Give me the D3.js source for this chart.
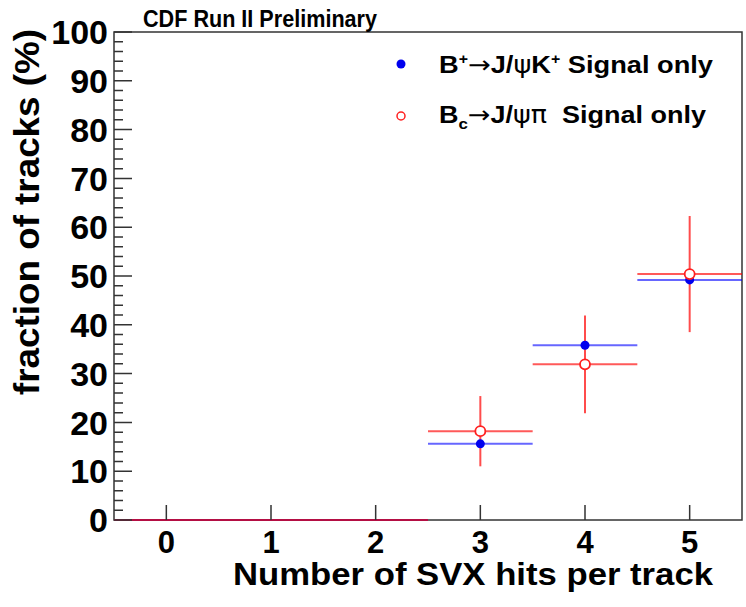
<!DOCTYPE html>
<html>
<head>
<meta charset="utf-8">
<script src="https://cdn.jsdelivr.net/npm/d3@7"></script>
<style>
  body { margin: 0; background: #fff; }
  svg { display: block; font-family: "Liberation Sans", Arial, Helvetica, sans-serif; font-weight: bold; }
</style>
</head>
<body>
<svg id="chart"></svg>
<script>
// SVX hit bins and fraction of tracks (%)
const bins = [0, 1, 2, 3, 4, 5];
const bplusValues = [0, 0, 0, 15.6, 35.8, 49.2];
const bcValues = [0, 0, 0, 18.2, 31.9, 50.4];
const bcErrors = [0, 0, 0, 7.2, 10.0, 11.9];
const yTicks = [0, 10, 20, 30, 40, 50, 60, 70, 80, 90, 100];
const yMinorTicks = d3.range(0, 101, 2).filter(v => v % 10 !== 0);

const config = {
  width: 746,
  height: 607,
  margin: {top: 32, right: 4, bottom: 87, left: 114}
};

const innerW = config.width - config.margin.left - config.margin.right;
const innerH = config.height - config.margin.top - config.margin.bottom;

const svg = d3.select('#chart')
    .attr('width', config.width)
    .attr('height', config.height);

const chart = svg.append('g')
    .attr('transform', `translate(${config.margin.left},${config.margin.top})`);

const xScale = d3.scaleLinear().domain([-0.5, 5.5]).range([0, innerW]);
const yScale = d3.scaleLinear().domain([0, 100]).range([innerH, 0]);

// frame
chart.append('rect')
    .attr('width', innerW)
    .attr('height', innerH)
    .attr('fill', 'none')
    .attr('stroke', '#333')
    .attr('stroke-width', 1.5);

chart.selectAll('.ylab')
    .data(yTicks)
  .join('text')
    .attr('class', 'ylab')
    .attr('x', -6)
    .attr('y', d => yScale(d))
    .attr('dy', '0.36em')
    .attr('text-anchor', 'end')
    .style('font-size', '34px')
    .text(d => d);

chart.selectAll('.xlab')
    .data(bins)
  .join('text')
    .attr('class', 'xlab')
    .attr('x', d => xScale(d))
    .attr('y', innerH + 33)
    .attr('text-anchor', 'middle')
    .style('font-size', '31px')
    .text(d => d);

// axis titles
chart.append('text')
    .attr('x', 599)
    .attr('y', innerH + 65)
    .attr('text-anchor', 'end')
    .attr('textLength', 480)
    .attr('lengthAdjust', 'spacingAndGlyphs')
    .style('font-size', '31px')
    .text('Number of SVX hits per track');

svg.append('text')
    .attr('transform', 'translate(39,29) rotate(-90)')
    .attr('text-anchor', 'end')
    .attr('textLength', 366)
    .attr('lengthAdjust', 'spacingAndGlyphs')
    .style('font-size', '35px')
    .text('fraction of tracks (%)');

svg.append('text')
    .attr('x', 143)
    .attr('y', 27)
    .attr('textLength', 234)
    .attr('lengthAdjust', 'spacingAndGlyphs')
    .style('font-size', '23px')
    .text('CDF Run II Preliminary');

const blue = '#0000ff';
const red = '#ff0000';

// B+ -> J/psi K+ : horizontal bin bars
chart.selectAll('.bplus-bar')
    .data(bins)
  .join('line')
    .attr('class', 'bplus-bar')
    .attr('x1', d => xScale(d - 0.5))
    .attr('x2', d => xScale(d + 0.5))
    .attr('y1', (d, i) => yScale(bplusValues[i]))
    .attr('y2', (d, i) => yScale(bplusValues[i]))
    .attr('stroke', blue)
    .attr('stroke-width', 2)
    .attr('stroke-opacity', 0.6);

// Bc -> J/psi pi : horizontal bars and vertical errors
chart.selectAll('.bc-bar')
    .data(bins)
  .join('line')
    .attr('class', 'bc-bar')
    .attr('x1', d => xScale(d - 0.5))
    .attr('x2', d => xScale(d + 0.5))
    .attr('y1', (d, i) => yScale(bcValues[i]))
    .attr('y2', (d, i) => yScale(bcValues[i]))
    .attr('stroke', red)
    .attr('stroke-width', 2)
    .attr('stroke-opacity', 0.65);

chart.selectAll('.bc-err')
    .data(bins.filter((d, i) => bcValues[i] > 0))
  .join('line')
    .attr('class', 'bc-err')
    .attr('x1', d => xScale(d))
    .attr('x2', d => xScale(d))
    .attr('y1', d => yScale(bcValues[d] + bcErrors[d]))
    .attr('y2', d => yScale(bcValues[d] - bcErrors[d]))
    .attr('stroke', red)
    .attr('stroke-width', 2)
    .attr('stroke-opacity', 0.7);

chart.selectAll('.bplus-pt')
    .data(bins.filter((d, i) => bplusValues[i] > 0))
  .join('circle')
    .attr('class', 'bplus-pt')
    .attr('cx', d => xScale(d))
    .attr('cy', d => yScale(bplusValues[d]))
    .attr('r', 4.5)
    .attr('fill', '#0000ee');

chart.selectAll('.bc-pt')
    .data(bins.filter((d, i) => bcValues[i] > 0))
  .join('circle')
    .attr('class', 'bc-pt')
    .attr('cx', d => xScale(d))
    .attr('cy', d => yScale(bcValues[d]))
    .attr('r', 5)
    .attr('fill', '#fff')
    .attr('stroke', '#ff2020')
    .attr('stroke-width', 1.8);

// legend
const legend = svg.append('g');
legend.append('circle').attr('cx', 401).attr('cy', 64).attr('r', 4.5).attr('fill', '#0000ee');
legend.append('circle').attr('cx', 401).attr('cy', 116).attr('r', 4).attr('fill', '#fff')
    .attr('stroke', '#ff2020').attr('stroke-width', 1.5);

const t1 = legend.append('text').attr('x', 439).attr('y', 73).style('font-size', '24px')
    .attr('textLength', 274).attr('lengthAdjust', 'spacingAndGlyphs');
t1.append('tspan').text('B');
t1.append('tspan').attr('dy', -9).style('font-size', '14px').text('+');
t1.append('tspan').attr('dy', 9).style('font-weight', 'normal')
    .style('font-family', '"DejaVu Sans"').text('\u2192');
t1.append('tspan').text('J/');
t1.append('tspan').style('font-weight', 'normal').style('font-family', '"DejaVu Sans"').text('\u03C8');
t1.append('tspan').text('K');
t1.append('tspan').attr('dy', -9).style('font-size', '14px').text('+');
t1.append('tspan').attr('dy', 9).text(' Signal only');

const t2 = legend.append('text').attr('x', 439).attr('y', 123).style('font-size', '24px')
    .attr('textLength', 267).attr('lengthAdjust', 'spacingAndGlyphs');
t2.append('tspan').text('B');
t2.append('tspan').attr('dy', 6).style('font-size', '15px').text('c');
t2.append('tspan').attr('dy', -6).style('font-weight', 'normal')
    .style('font-family', '"DejaVu Sans"').text('\u2192');
t2.append('tspan').text('J/');
t2.append('tspan').style('font-weight', 'normal').style('font-family', '"DejaVu Sans"').text('\u03C8\u03C0');
t2.append('tspan').text('\u00A0 Signal only');

// tick marks, drawn last as one path each, pointing into the frame
const ox = config.margin.left, oy = config.margin.top;
const yTickPath = yTicks.concat(yMinorTicks)
    .map(d => `M${ox},${oy + yScale(d)}h${d % 10 === 0 ? 18 : 9}`).join('');
const xTickPath = bins
    .map(d => `M${ox + xScale(d)},${oy + innerH}v-15`).join('');
svg.append('path')
    .attr('d', yTickPath + xTickPath)
    .attr('fill', 'none')
    .attr('stroke', '#333')
    .attr('stroke-width', 1.5);
</script>
</body>
</html>
